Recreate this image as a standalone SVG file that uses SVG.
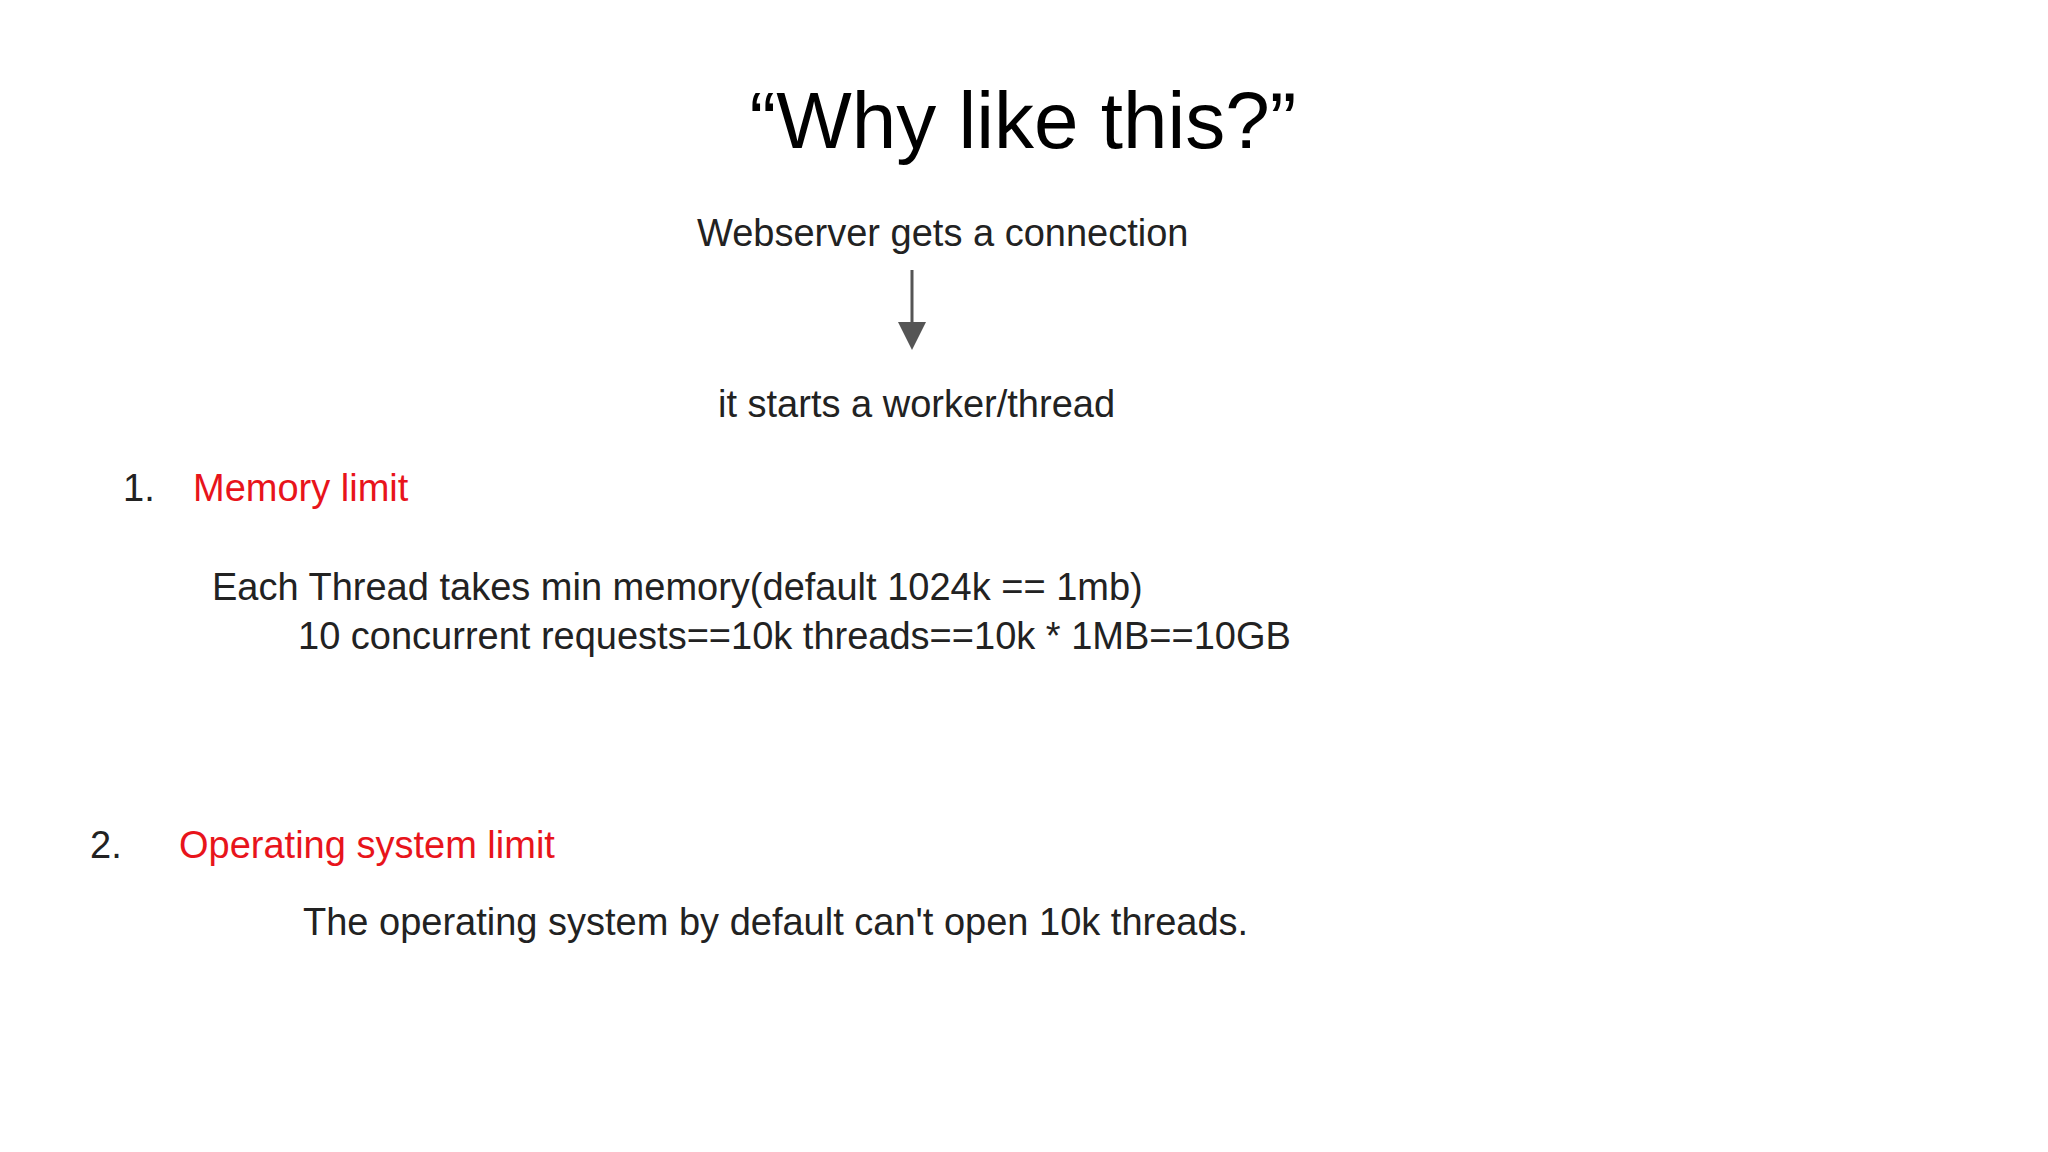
<svg xmlns="http://www.w3.org/2000/svg" width="2048" height="1152" viewBox="0 0 2048 1152">
<style>
text{font-family:"Liberation Sans",Arial,sans-serif;fill:#222}
.b{font-size:38px}
.r{fill:#e8141b}
</style>
<defs><marker id="ah" markerWidth="10" markerHeight="10" refX="5" refY="9" orient="auto" markerUnits="userSpaceOnUse" viewBox="0 0 10 10"><path d="M0,0 L10,0 L5,10 z" fill="#555"/></marker></defs>
<rect width="2048" height="1152" fill="#fff"/>
<g id="title"><text x="1023" y="148" font-size="80" text-anchor="middle" style="fill:#000">“Why like this?”</text></g>
<g id="n1"><text class="b" x="697" y="246">Webserver gets a connection</text></g>
<g id="connectors"><line x1="912" y1="270" x2="912" y2="322" stroke="#555" stroke-width="3"/><path d="M898,322 L926,322 L912,350 z" fill="#555"/></g>
<g id="n2"><text class="b" x="718" y="417">it starts a worker/thread</text></g>
<g id="p1"><text class="b" x="123" y="501">1.</text><text class="b r" x="193" y="501">Memory limit</text>
<text class="b" x="212" y="600">Each Thread takes min memory(default 1024k == 1mb)</text>
<text class="b" x="298" y="649">10 concurrent requests==10k threads==10k * 1MB==10GB</text></g>
<g id="p2"><text class="b" x="90" y="858">2.</text><text class="b r" x="179" y="858">Operating system limit</text>
<text class="b" x="303" y="935">The operating system by default can't open 10k threads.</text></g>
</svg>
